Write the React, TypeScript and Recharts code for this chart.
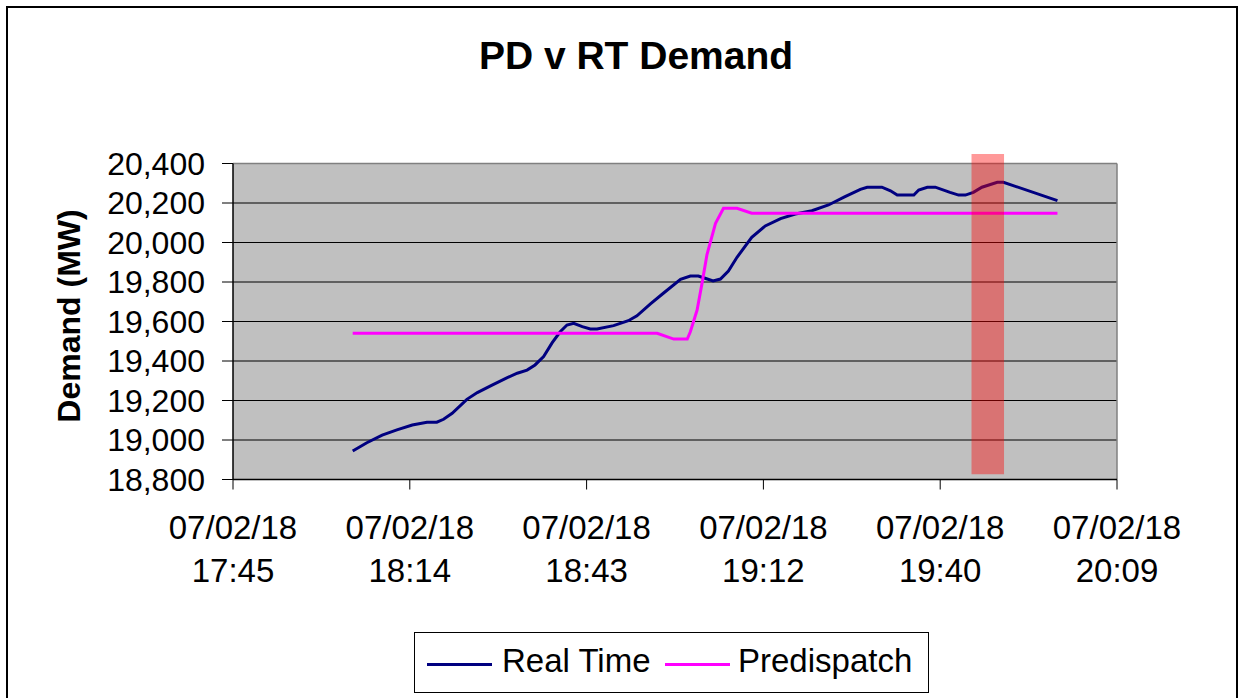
import { LineChart, Line, XAxis, YAxis, CartesianGrid, ReferenceArea, ReferenceLine } from "recharts";

const FONT = "'Liberation Sans', Arial, sans-serif";

// minutes after 17:45 on 07/02/18
const RT_MIN = [
  19.5, 21.8, 24.3, 26.7, 29.2, 31.6, 33.2, 34.3, 35.7, 38.1, 39.8, 42.2, 44.6, 46.3, 47.9, 49.2,
  50.6, 52.0, 53.3, 54.4, 55.5, 56.9, 58.2, 59.3, 62.0, 64.4, 65.8, 68.0, 70.1, 72.9, 74.5, 75.8,
  76.9, 78.2, 79.4, 80.7, 82.1, 84.5, 86.7, 89.2, 91.6, 94.3, 97.0, 99.7, 102.2, 103.3, 105.7,
  107.1, 108.2, 110.9, 111.7, 113.1, 114.4, 116.8, 118.2, 119.3, 120.6, 122.0, 124.5, 125.5, 134.3,
];
const RT_MW = [
  18944, 18986, 19025, 19051, 19076, 19090, 19090, 19105, 19135, 19206, 19240, 19278, 19315, 19338,
  19354, 19380, 19422, 19493, 19548, 19582, 19591, 19574, 19562, 19562, 19579, 19604, 19629, 19689,
  19743, 19814, 19830, 19830, 19819, 19805, 19815, 19856, 19925, 20026, 20084, 20121, 20144, 20161,
  20190, 20232, 20269, 20280, 20280, 20262, 20240, 20240, 20266, 20280, 20280, 20254, 20240, 20240,
  20254, 20280, 20305, 20305, 20212,
];

const PD_MIN = [19.5, 69.1, 71.8, 74.0, 74.5, 75.6, 76.4, 77.2, 78.6, 79.9, 82.1, 84.5, 134.3];
const PD_MW = [19540, 19540, 19511, 19511, 19548, 19658, 19793, 19937, 20097, 20173, 20173, 20148, 20148];

const X_TICKS = [0, 28.8, 57.6, 86.4, 115.2, 144];
const X_DATES = ["07/02/18", "07/02/18", "07/02/18", "07/02/18", "07/02/18", "07/02/18"];
const X_TIMES = ["17:45", "18:14", "18:43", "19:12", "19:40", "20:09"];
const Y_TICKS = [18800, 19000, 19200, 19400, 19600, 19800, 20000, 20200, 20400];

// highlighted window (drawn shape, overflows the plot a bit)
const HIGHLIGHT = { x1: 120.3, x2: 125.6, y1: 18826, y2: 20448 };

const rtData = RT_MIN.map((t, i) => ({ t, v: RT_MW[i] }));
const pdData = PD_MIN.map((t, i) => ({ t, v: PD_MW[i] }));

function TimeTick(props: any) {
  const { x, y, payload } = props;
  const i = X_TICKS.indexOf(payload.value);
  return (
    <g>
      <text x={x} y={y + 47} textAnchor="middle" fontSize={33} fontFamily={FONT} fill="#000">
        {X_DATES[i]}
      </text>
      <text x={x} y={y + 90} textAnchor="middle" fontSize={33} fontFamily={FONT} fill="#000">
        {X_TIMES[i]}
      </text>
    </g>
  );
}

function YTitle() {
  return (
    <text
      x={80}
      y={316}
      transform="rotate(-90 80 316)"
      textAnchor="middle"
      fontSize={32}
      fontWeight="bold"
      fontFamily={FONT}
      fill="#000"
    >
      Demand (MW)
    </text>
  );
}

export default function App() {
  return (
    <div style={{ position: "absolute", left: 0, top: 0, width: 1241, height: 698, background: "#fff", overflow: "hidden" }}>
      <div
        style={{
          position: "absolute", left: 6, top: 6, width: 1228, height: 720,
          border: "2px solid #000",
        }}
      />
      <div
        style={{
          position: "absolute", left: 336, top: 36, width: 600, textAlign: "center",
          fontFamily: FONT, fontWeight: "bold", fontSize: 39, lineHeight: "39px", color: "#000",
        }}
      >
        PD v RT Demand
      </div>

      <div style={{ position: "absolute", left: 0, top: 0 }}>
        <LineChart width={1241} height={698} margin={{ top: 163.5, right: 124, bottom: 98.5, left: 0 }}>
          <CartesianGrid fill="#C0C0C0" stroke="#000" strokeOpacity={1} vertical={false} />
          <XAxis
            type="number"
            dataKey="t"
            domain={[0, 144]}
            ticks={X_TICKS}
            interval={0}
            height={120}
            tickSize={10}
            tick={<TimeTick />}
            axisLine={{ stroke: "#000", strokeWidth: 1.5 }}
            tickLine={{ stroke: "#000" }}
            allowDataOverflow
          />
          <YAxis
            type="number"
            domain={[18800, 20400]}
            ticks={Y_TICKS}
            interval={0}
            width={233}
            tickSize={11}
            tickMargin={17}
            tick={{ fill: "#000", fontSize: 32, fontFamily: FONT }}
            tickFormatter={(v: number) => v.toLocaleString("en-US")}
            axisLine={{ stroke: "#000", strokeWidth: 1.5 }}
            tickLine={{ stroke: "#000" }}
            label={<YTitle />}
            allowDataOverflow
          />
          <ReferenceLine y={20400} stroke="#808080" strokeWidth={1.5} />
          <ReferenceLine x={144} stroke="#808080" strokeWidth={1.5} />
          <Line
            data={rtData}
            dataKey="v"
            type="linear"
            stroke="#000080"
            strokeWidth={3}
            dot={false}
            isAnimationActive={false}
          />
          <Line
            data={pdData}
            dataKey="v"
            type="linear"
            stroke="#FF00FF"
            strokeWidth={3}
            dot={false}
            isAnimationActive={false}
          />
          <ReferenceArea
            x1={HIGHLIGHT.x1}
            x2={HIGHLIGHT.x2}
            y1={HIGHLIGHT.y1}
            y2={HIGHLIGHT.y2}
            fill="#FF0000"
            fillOpacity={0.4}
            stroke="none"
            ifOverflow="visible"
            zIndex={450}
          />
        </LineChart>
      </div>

      <div
        style={{
          position: "absolute", left: 414, top: 632, width: 513, height: 59,
          border: "1.5px solid #000", background: "#fff", fontFamily: FONT, fontSize: 33, color: "#000",
        }}
      >
        <div style={{ position: "absolute", left: 12, top: 30, width: 65, height: 3, background: "#000080" }} />
        <div style={{ position: "absolute", left: 87, top: 11, lineHeight: "33px", whiteSpace: "nowrap" }}>Real Time</div>
        <div style={{ position: "absolute", left: 250, top: 30, width: 65, height: 3, background: "#FF00FF" }} />
        <div style={{ position: "absolute", left: 323, top: 11, lineHeight: "33px", whiteSpace: "nowrap" }}>Predispatch</div>
      </div>
    </div>
  );
}
